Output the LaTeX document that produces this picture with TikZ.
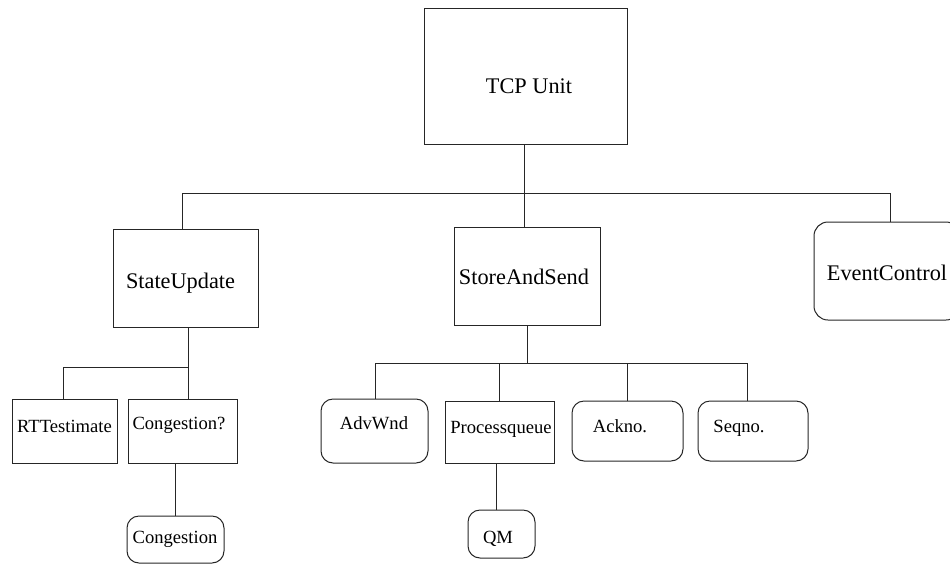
\documentclass[tikz,border=0pt]{standalone}
\usepackage{fontspec}
\setmainfont{Liberation Serif}
\newfontfamily\labelfont{Liberation Serif}
\begin{document}
\begin{tikzpicture}[x=1pt,y=-1pt,
  line width=1pt, draw=black!85,
  sqbox/.style={draw, rectangle, inner sep=0pt},
  rdbox/.style={draw, rectangle, rounded corners=12pt, inner sep=0pt},
  big/.style={anchor=base, inner sep=0pt, font=\labelfont\fontsize{22.3}{26}\selectfont},
  small/.style={anchor=base, inner sep=0pt, font=\labelfont\fontsize{18.6}{22}\selectfont}]
\useasboundingbox (0,0) rectangle (950,563);

% boxes
\node[sqbox, minimum width=203pt, minimum height=136pt] (tcp) at (525.5,76) {};
\node[sqbox, minimum width=145pt, minimum height=98pt] (su) at (185.5,278) {};
\node[sqbox, minimum width=146pt, minimum height=98pt] (sas) at (527,276) {};
\node[rdbox, rounded corners=14pt, minimum width=146pt, minimum height=98pt] (ec) at (887,271) {};
\node[sqbox, minimum width=105pt, minimum height=64pt] (rtt) at (64.5,431) {};
\node[sqbox, minimum width=109pt, minimum height=64pt] (cq) at (182.5,431) {};
\node[rdbox, minimum width=107pt, minimum height=64pt] (adv) at (374.5,431) {};
\node[sqbox, minimum width=109pt, minimum height=62pt] (pq) at (499.5,432) {};
\node[rdbox, minimum width=111pt, minimum height=60pt] (ack) at (627.5,431) {};
\node[rdbox, minimum width=110pt, minimum height=60pt] (seq) at (753,431) {};
\node[rdbox, minimum width=97pt, minimum height=47pt] (cg) at (175.5,539.5) {};
\node[rdbox, minimum width=67pt, minimum height=48pt] (qm) at (501.5,534) {};

% labels
\node[big] (tcp-t) at (529,93) {TCP Unit};
\node[big] (su-t) at (180.5,288) {StateUpdate};
\node[big] (sas-t) at (524,284) {StoreAndSend};
\node[big] (ec-t) at (887,280) {EventControl};
\node[small] (rtt-t) at (64.5,432) {RTTestimate};
\node[small] (cq-t) at (179,429) {Congestion?};
\node[small] (adv-t) at (374,429) {AdvWnd};
\node[small] (pq-t) at (501,433) {Processqueue};
\node[small] (ack-t) at (620,432) {Ackno.};
\node[small] (seq-t) at (739,432) {Seqno.};
\node[small] (cg-t) at (175,543) {Congestion};
\node[small] (qm-t) at (498,543) {QM};

% top level tree
\coordinate (hub) at (524,193);
\coordinate (suUp) at (182,193);
\coordinate (ecUp) at (890,193);
\draw (tcp.south -| hub) -- (sas.north -| hub);
\draw (suUp |- su.north) -- (suUp) -- (ecUp) -- (ecUp |- ec.north);

% StateUpdate branch
\coordinate (suBus) at (188,367);
\coordinate (rttUp) at (63,367);
\draw (su.south -| suBus) -- (cq.north -| suBus);
\draw (suBus) -- (rttUp) -- (rttUp |- rtt.north);
\draw (cq.south -| cg.north) -- (cg.north);

% StoreAndSend branch
\coordinate (sasBus) at (527,363);
\coordinate (advUp) at (375,363);
\coordinate (seqUp) at (747,363);
\draw (sas.south -| sasBus) -- (sasBus);
\draw (advUp |- adv.north) -- (advUp) -- (seqUp) -- (seqUp |- seq.north);
\draw (pq.north |- sasBus) -- (pq.north);
\draw (ack.north |- sasBus) -- (ack.north);
\coordinate (qmLink) at (496,463);
\draw (qmLink) -- (qmLink |- qm.north);
\end{tikzpicture}
\end{document}
